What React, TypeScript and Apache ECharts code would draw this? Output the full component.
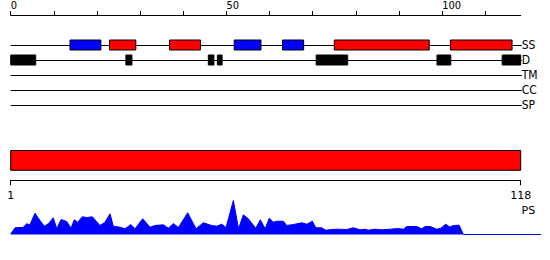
import React, { useEffect, useRef } from 'react';
import * as echarts from 'echarts';

// ---- data ----
const tracks = ['SS', 'D', 'TM', 'CC', 'SP'];
const topTicks = [0, 10, 20, 30, 40, 50, 60, 70, 80, 90, 100, 110];
const topLabels = [0, 50, 100];
const topMax = 118.2;

// secondary structure: helix (red) and strand (blue) segments [start, end]
const helixSegments = [[22.9, 29.0], [36.8, 44.0], [75.0, 97.0], [101.9, 116.2]];
const strandSegments = [[13.75, 20.9], [51.8, 58.0], [63.0, 67.9]];
// disorder segments
const disorderSegments = [[0, 5.8], [26.7, 28.1], [45.8, 47.1], [47.9, 49.0], [70.8, 78.1], [98.8, 102.0], [113.9, 118.2]];

// domain bar
const domainStart = 1;
const domainEnd = 118;
const bottomLabels = [1, 118];

// PS profile
const psPositions = [0, 1.0, 2.16, 2.85, 3.71, 4.47, 5.63, 6.79, 7.79, 8.72, 9.87, 10.66, 11.66, 12.98, 13.98, 14.74, 15.53, 16.6, 17.62, 18.92, 20.7, 21.86, 23.02, 23.78, 25.34, 26.5, 27.82, 28.81, 30.6, 32.29, 33.45, 35.37, 36.53, 37.69, 38.85, 41.03, 42.95, 44.65, 46.59, 47.75, 48.91, 49.91, 51.6, 52.8, 53.92, 55.08, 56.79, 57.86, 58.95, 59.94, 60.87, 61.66, 63.19, 63.98, 65.51, 67.45, 68.61, 69.91, 70.7, 72.09, 73.02, 74.41, 75.94, 77.89, 79.42, 80.97, 82.13, 82.89, 84.44, 86.0, 87.92, 89.85, 91.01, 91.79, 94.11, 95.27, 96.04, 97.2, 98.75, 99.68, 100.83, 101.67, 102.76, 103.92, 104.92, 122.9];
const psValues = [0.5, 6.7, 7, 7, 10.7, 9.7, 21.3, 14, 8.3, 10.7, 16.7, 5.7, 15, 13, 6.3, 14.7, 12.3, 17.7, 17, 17.7, 9, 12.3, 20.7, 8.3, 7.3, 5.7, 10, 5.7, 15.7, 7.3, 9, 9.7, 6.3, 11, 7, 21.7, 5.7, 11.7, 9, 8.3, 10.3, 7, 34, 5.7, 19.7, 15.7, 6.3, 14.7, 5.7, 16.3, 12.3, 13.3, 13.3, 9, 10, 11.7, 10.3, 13.3, 6.7, 6.7, 4.3, 5, 5.3, 5, 6.7, 4.7, 5.3, 4.3, 5.3, 4.7, 5.3, 6, 5.3, 8, 8, 5.7, 8, 8, 5.3, 6.3, 10.3, 7.7, 9, 9.3, 0, 0];
const psMax = 122.9;

const NARROW = "'Liberation Sans Narrow', 'DejaVu Sans Condensed', 'Liberation Sans', sans-serif";
const SANS = "'DejaVu Sans', sans-serif";

function segRender(fill: string, stroke: string | null) {
  return (params: any, api: any) => {
    const s = api.coord([api.value(0), api.value(2)]);
    const e = api.coord([api.value(1), api.value(2)]);
    return {
      type: 'rect',
      shape: { x: s[0], y: s[1] - 5, width: e[0] - s[0], height: 10 },
      style: { fill, stroke: stroke || fill, lineWidth: 1 },
    };
  };
}

export default function App() {
  const ref = useRef<HTMLDivElement>(null);
  useEffect(() => {
    if (!ref.current) return;
    const chart = echarts.init(ref.current, null, { renderer: 'svg' });
    const ssIdx = tracks.indexOf('SS');
    const dIdx = tracks.indexOf('D');
    chart.setOption({
      animation: false,
      backgroundColor: '#ffffff',
      grid: [
        { left: 10.7, width: 510, top: 14, height: 1 },
        { left: 10.7, width: 510, top: 37.5, height: 75 },
        { left: 10.7, width: 510, top: 148, height: 32.3 },
        { left: 10.7, width: 530.3, top: 194.5, height: 40 },
      ],
      xAxis: [
        {
          gridIndex: 0, type: 'value', position: 'top', min: 0, max: topMax,
          splitLine: { show: false },
          axisLine: { lineStyle: { color: '#000', width: 1 } },
          axisTick: { show: true, length: 4, inside: false, customValues: topTicks, lineStyle: { color: '#000' } },
          axisLabel: { customValues: topLabels, align: 'left', margin: 3, color: '#000', fontFamily: NARROW, fontSize: 11 },
        },
        { gridIndex: 1, type: 'value', min: 0, max: topMax, show: false },
        {
          gridIndex: 2, type: 'value', position: 'bottom', min: domainStart, max: domainEnd,
          splitLine: { show: false },
          axisLine: { lineStyle: { color: '#000', width: 1 } },
          axisTick: { show: true, length: 5, inside: false, customValues: bottomLabels, lineStyle: { color: '#000' } },
          axisLabel: { customValues: bottomLabels, margin: 10, color: '#000', fontFamily: SANS, fontSize: 11 },
        },
        { gridIndex: 3, type: 'value', min: 0, max: psMax, show: false },
      ],
      yAxis: [
        { gridIndex: 0, type: 'value', show: false },
        {
          gridIndex: 1, type: 'category', data: tracks, inverse: true, position: 'right',
          axisLine: { show: false }, axisTick: { show: false }, splitLine: { show: false },
          axisLabel: { interval: 0, hideOverlap: false, margin: 1, color: '#000', fontFamily: NARROW, fontSize: 12 },
        },
        { gridIndex: 2, type: 'value', min: 0, max: 32.3, show: false },
        { gridIndex: 3, type: 'value', min: 0, max: 40, show: false },
      ],
      graphic: [
        { type: 'text', left: 521.5, top: 205, style: { text: 'PS', fill: '#000', font: `11px ${SANS}` } },
      ],
      series: [
        {
          type: 'custom', xAxisIndex: 1, yAxisIndex: 1, z: 1,
          data: tracks.map((_, i) => [0, topMax + 0.25, i]),
          renderItem: (params: any, api: any) => {
            const s = api.coord([api.value(0), api.value(2)]);
            const e = api.coord([api.value(1), api.value(2)]);
            return { type: 'line', shape: { x1: s[0], y1: s[1] + 0.5, x2: e[0], y2: e[1] + 0.5 }, style: { stroke: '#000', lineWidth: 1 } };
          },
        },
        {
          type: 'custom', xAxisIndex: 1, yAxisIndex: 1, z: 2,
          data: strandSegments.map((s) => [s[0], s[1], ssIdx]),
          renderItem: segRender('#0000ff', '#000'),
        },
        {
          type: 'custom', xAxisIndex: 1, yAxisIndex: 1, z: 2,
          data: helixSegments.map((s) => [s[0], s[1], ssIdx]),
          renderItem: segRender('#ff0000', '#000'),
        },
        {
          type: 'custom', xAxisIndex: 1, yAxisIndex: 1, z: 2,
          data: disorderSegments.map((s) => [s[0], s[1], dIdx]),
          renderItem: segRender('#000000', null),
        },
        {
          type: 'custom', xAxisIndex: 2, yAxisIndex: 2, z: 2,
          data: [[domainStart, domainEnd]],
          renderItem: (params: any, api: any) => {
            const s = api.coord([api.value(0), 29.8]);
            const e = api.coord([api.value(1), 10]);
            return { type: 'rect', shape: { x: s[0], y: s[1], width: e[0] - s[0], height: e[1] - s[1] }, style: { fill: '#ff0000', stroke: '#000', lineWidth: 1 } };
          },
        },
        {
          type: 'line', xAxisIndex: 3, yAxisIndex: 3,
          data: psPositions.map((p, i) => [p, psValues[i]]),
          showSymbol: false, symbol: 'none',
          lineStyle: { color: '#0000ff', width: 1 },
          areaStyle: { color: '#0000ff', opacity: 1 },
        },
      ],
    });
    return () => chart.dispose();
  }, []);
  return <div ref={ref} style={{ position: 'fixed', left: 0, top: 0, width: 550, height: 260 }} />;
}
